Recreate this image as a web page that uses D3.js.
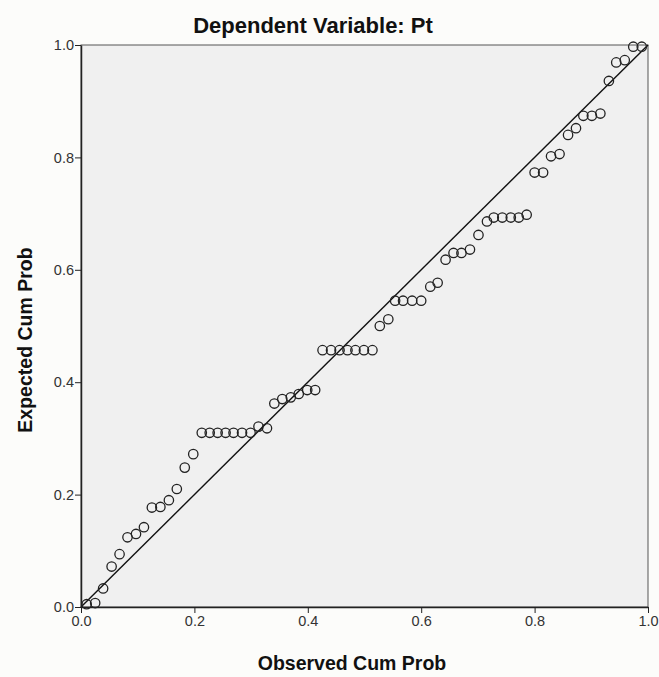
<!DOCTYPE html>
<meta charset="utf-8">
<style>
body { margin: 0; background: #fcfcfa; }
svg { display: block; }
.tick text { font: 14.5px "Liberation Sans", Arial, sans-serif; fill: #333; }
.axis path, .axis line { stroke: #222; }
.title { font: bold 22px "Liberation Sans", Arial, sans-serif; fill: #111; }
.label { font: bold 19.5px "Liberation Sans", Arial, sans-serif; fill: #111; }
.pt { fill: none; stroke: #222; stroke-width: 1.3px; }
</style>
<svg width="659" height="677"></svg>
<script src="https://d3js.org/d3.v7.min.js"></script>
<script>
var observed = [0.010, 0.025, 0.039, 0.054, 0.068, 0.082, 0.097, 0.111, 0.125, 0.140,
    0.155, 0.169, 0.183, 0.198, 0.213, 0.227, 0.241, 0.255, 0.269, 0.284,
    0.299, 0.313, 0.328, 0.341, 0.355, 0.370, 0.384, 0.399, 0.413, 0.426,
    0.441, 0.456, 0.470, 0.484, 0.499, 0.514, 0.527, 0.542, 0.554, 0.568,
    0.584, 0.600, 0.616, 0.629, 0.643, 0.657, 0.671, 0.686, 0.701, 0.716,
    0.728, 0.743, 0.758, 0.772, 0.786, 0.800, 0.815, 0.829, 0.844, 0.859,
    0.873, 0.886, 0.901, 0.916, 0.931, 0.944, 0.959, 0.974, 0.989];

var expected = [0.005, 0.007, 0.033, 0.072, 0.094, 0.124, 0.130, 0.142, 0.177, 0.178,
    0.190, 0.210, 0.248, 0.272, 0.310, 0.310, 0.310, 0.310, 0.310, 0.310,
    0.310, 0.321, 0.318, 0.362, 0.370, 0.373, 0.379, 0.386, 0.386, 0.457,
    0.457, 0.457, 0.457, 0.457, 0.457, 0.457, 0.500, 0.512, 0.545, 0.545,
    0.545, 0.545, 0.570, 0.577, 0.618, 0.630, 0.630, 0.636, 0.662, 0.686,
    0.693, 0.693, 0.693, 0.693, 0.698, 0.773, 0.773, 0.802, 0.806, 0.840,
    0.852, 0.874, 0.874, 0.878, 0.936, 0.969, 0.973, 0.997, 0.997];

var ticks = [0, 0.2, 0.4, 0.6, 0.8, 1.0];

var svg = d3.select("svg");
var plotL = 81, plotR = 648, plotT = 45, plotB = 607;

var x = d3.scaleLinear().domain([0, 1]).range([plotL, plotR]);
var y = d3.scaleLinear().domain([0, 1]).range([plotB, plotT]);

// plot background + frame
svg.append("rect")
    .attr("x", plotL).attr("y", plotT)
    .attr("width", plotR - plotL).attr("height", plotB - plotT)
    .attr("fill", "#f0f0f0")
    .attr("stroke", "#555")
    .attr("stroke-width", 1);

// reference line
svg.append("line")
    .attr("x1", x(0)).attr("y1", y(0))
    .attr("x2", x(1)).attr("y2", y(1))
    .attr("stroke", "#111")
    .attr("stroke-width", 1.4);

// points
svg.append("g").selectAll("circle")
    .data(observed)
    .enter().append("circle")
    .attr("class", "pt")
    .attr("cx", function(d) { return x(d); })
    .attr("cy", function(d, i) { return y(expected[i]); })
    .attr("r", 4.7);

var fmt = d3.format(".1f");

svg.append("g")
    .attr("class", "axis")
    .attr("transform", "translate(0," + plotB + ")")
    .call(d3.axisBottom(x).tickValues(ticks).tickFormat(fmt).tickSizeInner(6).tickSizeOuter(0).tickPadding(3));

svg.append("g")
    .attr("class", "axis")
    .attr("transform", "translate(" + plotL + ",0)")
    .call(d3.axisLeft(y).tickValues(ticks).tickFormat(fmt).tickSizeInner(6).tickSizeOuter(0).tickPadding(1));

svg.selectAll(".axis .domain").attr("stroke-width", 1.5);

svg.append("text")
    .attr("class", "title")
    .attr("x", 313)
    .attr("y", 33)
    .attr("text-anchor", "middle")
    .text("Dependent Variable: Pt");

svg.append("text")
    .attr("class", "label")
    .attr("x", 352)
    .attr("y", 670)
    .attr("text-anchor", "middle")
    .text("Observed Cum Prob");

svg.append("text")
    .attr("class", "label")
    .attr("transform", "translate(32,340) rotate(-90)")
    .attr("text-anchor", "middle")
    .text("Expected Cum Prob");
</script>
